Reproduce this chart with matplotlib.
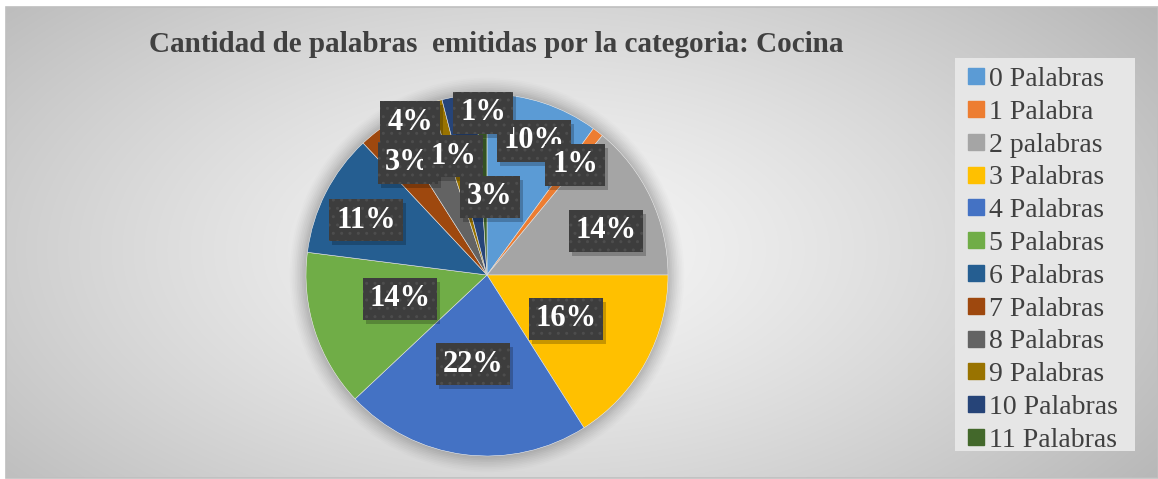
import numpy as np
import matplotlib
matplotlib.use("Agg")
import matplotlib.pyplot as plt
from matplotlib.patches import Rectangle, Circle
from matplotlib.lines import Line2D

# ---------------- data ----------------
categories = ["0 Palabras", "1 Palabra", "2 palabras", "3 Palabras", "4 Palabras",
              "5 Palabras", "6 Palabras", "7 Palabras", "8 Palabras", "9 Palabras",
              "10 Palabras", "11 Palabras"]
values = [10, 1, 14, 16, 22, 14, 11, 3, 4, 1, 3, 1]
colors = ["#5B9BD5", "#ED7D31", "#A5A5A5", "#FFC000", "#4472C4", "#70AD47",
          "#255E91", "#9E480E", "#636363", "#997300", "#264478", "#43682B"]
title = "Cantidad de palabras  emitidas por la categoria: Cocina"

# ---------------- layout ----------------
W, H = 1158, 479
cx, cy, R = 487, 275, 181          # pie centre / radius in pixels
LIM = 1.25                          # axes half-extent in pie-radius units
# label box centres in pixels (layout only)
label_px = [(534, 141), (575, 165), (606, 231), (566, 319), (473, 364), (400, 299),
            (366, 220), (408, 163), (410, 122), (453, 156), (490, 197), (483, 113)]

SERIF = ["Liberation Serif", "DejaVu Serif"]

fig = plt.figure(figsize=(W / 100, H / 100), dpi=100)
fig.patch.set_facecolor("white")

# background gradient
bg = fig.add_axes([0, 0, 1, 1])
bg.set_xlim(0, W)
bg.set_ylim(H, 0)
bg.axis("off")
x0, x1, y0, y1 = 6, W, 7, 478
xx, yy = np.meshgrid(np.linspace(x0, x1, 400), np.linspace(y0, y1, 200))
d = np.sqrt(((xx - 540) / 620.0) ** 2 + ((yy - 250) / 330.0) ** 2)
val = 0.965 - 0.19 * np.clip(d, 0, 1.3) ** 1.3
img = np.dstack([val, val, val])
bg.imshow(img, extent=[x0, x1, y1, y0], aspect="auto", interpolation="bilinear", zorder=0)
bg.add_patch(Rectangle((x0, y0), x1 - x0, y1 - y0, fill=False, ec="#bfbfbf", lw=1.2, zorder=1))

# title
fig.text(496 / W, 1 - 44 / H, title, ha="center", va="center",
         fontsize=21, fontweight="bold", color="#404040", family=SERIF)

# pie axes
Rl = R * LIM
ax = fig.add_axes([(cx - Rl) / W, (H - cy - Rl) / H, 2 * Rl / W, 2 * Rl / H])
ax.axis("off")

# soft glow/shadow around pie
for k, a in zip(np.linspace(1.09, 1.005, 10), np.linspace(0.012, 0.035, 10)):
    ax.add_patch(Circle((0, 0), k, color="#000000", alpha=a, lw=0, zorder=0))
ax.add_patch(Circle((0, 0), 1.0, color="white", lw=0, zorder=0.5))

wedges, _ = ax.pie(values, colors=colors, startangle=90, counterclock=False,
                   radius=1.0, center=(0, 0),
                   wedgeprops=dict(linewidth=0.4, edgecolor="#e0e0e0"))
for w_ in wedges:
    w_.set_zorder(1)
ax.set_xlim(-LIM, LIM)
ax.set_ylim(-LIM, LIM)
ax.set_aspect("equal")

total = float(sum(values))
labels = []
for v, (px, py) in zip(values, label_px):
    lx = (px - cx) / R
    ly = (cy - py) / R
    txt = f"{v / total * 100:.0f}%"
    t = ax.text(lx, ly, txt, ha="center", va="center", fontsize=22,
                fontweight="bold", color="white", family=SERIF, zorder=4,
                bbox=dict(boxstyle="square,pad=0.22", fc="#3d3d3d", ec="#4d4d4d",
                          hatch="..", lw=0))
    labels.append(t)

# drop shadows for label boxes (drawn as patches behind each box)
fig.canvas.draw()
inv = ax.transData.inverted()
for t in labels:
    ext = t.get_bbox_patch().get_window_extent()
    (ax0, ay0), (ax1, ay1) = inv.transform([(ext.x0 + 3, ext.y0 - 4), (ext.x1 + 3, ext.y1 - 4)])
    ax.add_patch(Rectangle((ax0, ay0), ax1 - ax0, ay1 - ay0, fc="#000000",
                           ec="none", alpha=0.22, zorder=3))

# legend box
bg.add_patch(Rectangle((955, 58), 180, 393, fc="#e6e6e6", ec="none", zorder=2))
handles = [Line2D([0], [0], marker="s", ls="none", markersize=11,
                  markerfacecolor=c, markeredgecolor=c) for c in colors]
leg = fig.legend(handles, categories, loc="upper left",
                 bbox_to_anchor=(949 / W, 1 - 47 / H), frameon=False,
                 prop=dict(family=SERIF, size=20), labelcolor="#404040",
                 handlelength=0.55, handletextpad=0.2, labelspacing=0.265,
                 borderpad=0.2)

fig.savefig("out.png", dpi=100, facecolor="white")
